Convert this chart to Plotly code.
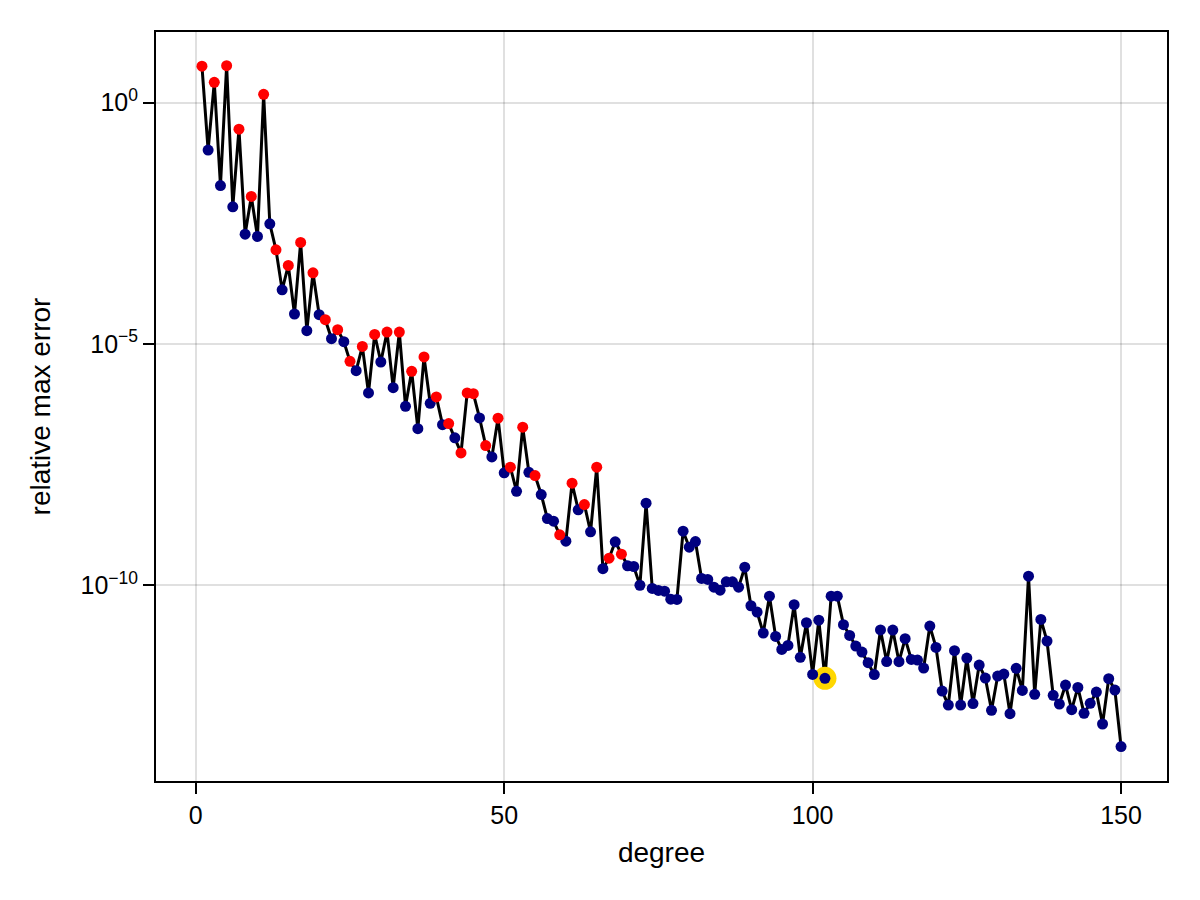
import plotly.graph_objects as go

# polynomial degree vs. relative max error
degree = list(range(1, 151))
rel_err = [
    5.7, 1.04e-1, 2.64, 1.92e-2, 5.83, 6.95e-3, 2.82e-1, 1.89e-3, 1.14e-2, 1.69e-3,
    1.49, 3.09e-3, 8.96e-4, 1.33e-4, 4.24e-4, 4.19e-5, 1.27e-3, 1.89e-5, 2.99e-4, 4.05e-5,
    3.19e-5, 1.29e-5, 1.98e-5, 1.12e-5, 4.38e-6, 2.81e-6, 8.93e-6, 9.71e-7, 1.58e-5, 4.25e-6,
    1.77e-5, 1.25e-6, 1.77e-5, 5.13e-7, 2.72e-6, 1.77e-7, 5.40e-6, 5.92e-7, 8.02e-7, 2.14e-7,
    2.25e-7, 1.14e-7, 5.57e-8, 9.71e-7, 9.40e-7, 2.95e-7, 7.89e-8, 4.60e-8, 2.92e-7, 2.15e-8,
    2.81e-8, 8.90e-9, 1.90e-7, 2.21e-8, 1.89e-8, 7.64e-9, 2.43e-9, 2.14e-9, 1.12e-9, 8.26e-10,
    1.31e-8, 3.68e-9, 4.74e-9, 1.29e-9, 2.81e-8, 2.23e-10, 3.67e-10, 8.02e-10, 4.45e-10, 2.56e-10,
    2.47e-10, 1.01e-10, 5.05e-9, 8.67e-11, 7.88e-11, 7.62e-11, 5.21e-11, 5.14e-11, 1.33e-9, 6.21e-10,
    8.13e-10, 1.40e-10, 1.33e-10, 9.23e-11, 8.00e-11, 1.19e-10, 1.19e-10, 9.23e-11, 2.39e-10, 3.80e-11,
    2.81e-11, 1.03e-11, 6.01e-11, 8.81e-12, 4.74e-12, 5.74e-12, 3.99e-11, 3.24e-12, 1.69e-11, 1.44e-12,
    1.91e-11, 1.19e-12, 6.01e-11, 6.01e-11, 1.54e-11, 9.23e-12, 5.55e-12, 4.17e-12, 2.52e-12, 1.43e-12,
    1.20e-11, 2.65e-12, 1.19e-11, 2.64e-12, 7.89e-12, 2.94e-12, 2.85e-12, 1.95e-12, 1.44e-11, 5.21e-12,
    6.50e-13, 3.34e-13, 4.46e-12, 3.34e-13, 3.13e-12, 3.57e-13, 2.24e-12, 1.21e-12, 2.60e-13, 1.33e-12,
    1.46e-12, 2.21e-13, 1.92e-12, 6.71e-13, 1.56e-10, 5.55e-13, 1.98e-11, 7.05e-12, 5.30e-13, 3.50e-13,
    8.65e-13, 2.68e-13, 7.74e-13, 2.25e-13, 3.62e-13, 6.19e-13, 1.35e-13, 1.17e-12, 6.82e-13, 4.60e-14,
]
red_degrees = [1, 3, 5, 7, 9, 11, 13, 15, 17, 19, 21, 23, 25, 27, 29, 31, 33, 35, 37,
               39, 41, 43, 44, 45, 47, 49, 51, 53, 55, 59, 61, 63, 65, 67, 69]
best_degree = 102

ytick_vals = [1, 1e-5, 1e-10]
ytick_text = ["10<sup>0</sup>", "10<sup>\u22125</sup>", "10<sup>\u221210</sup>"]
xtick_vals = [0, 50, 100, 150]

red_x = [d for d in degree if d in red_degrees]
red_y = [e for d, e in zip(degree, rel_err) if d in red_degrees]
navy_x = [d for d in degree if d not in red_degrees]
navy_y = [e for d, e in zip(degree, rel_err) if d not in red_degrees]

fig = go.Figure()

fig.add_trace(go.Scatter(
    x=degree, y=rel_err, mode="lines",
    line=dict(color="black", width=3),
    showlegend=False, hoverinfo="skip",
))
fig.add_trace(go.Scatter(
    x=[best_degree], y=[rel_err[degree.index(best_degree)]], mode="markers",
    marker=dict(color="#FFD700", size=23, line=dict(width=0)),
    showlegend=False,
))
fig.add_trace(go.Scatter(
    x=navy_x, y=navy_y, mode="markers",
    marker=dict(color="#000080", size=11, line=dict(width=0)),
    showlegend=False,
))
fig.add_trace(go.Scatter(
    x=red_x, y=red_y, mode="markers",
    marker=dict(color="#FF0000", size=11, line=dict(width=0)),
    showlegend=False,
))

axis_style = dict(
    showgrid=True, gridcolor="rgba(0,0,0,0.12)", gridwidth=2,
    showline=True, linecolor="black", linewidth=2, mirror=True,
    ticks="outside", ticklen=11, tickwidth=2, tickcolor="black",
    zeroline=False, tickfont=dict(size=25, color="black"),
)

fig.update_xaxes(
    range=[-6.45, 157.45], tickvals=xtick_vals,
    title=dict(text="degree", font=dict(size=28, color="black"), standoff=14),
    **axis_style,
)
fig.update_yaxes(
    type="log", range=[-14.05, 1.463],
    tickvals=ytick_vals, ticktext=ytick_text,
    title=dict(text="relative max error", font=dict(size=28, color="black"), standoff=22),
    **axis_style,
)

# page body adds 8px, so the figure is a bit smaller than the window
fig.update_layout(
    width=1192, height=892, autosize=False,
    margin=dict(l=148, r=33, t=24, b=119),
    plot_bgcolor="white", paper_bgcolor="white",
    font=dict(family="Liberation Sans, Arial, sans-serif", color="black"),
)

fig.write_html("out.html")
